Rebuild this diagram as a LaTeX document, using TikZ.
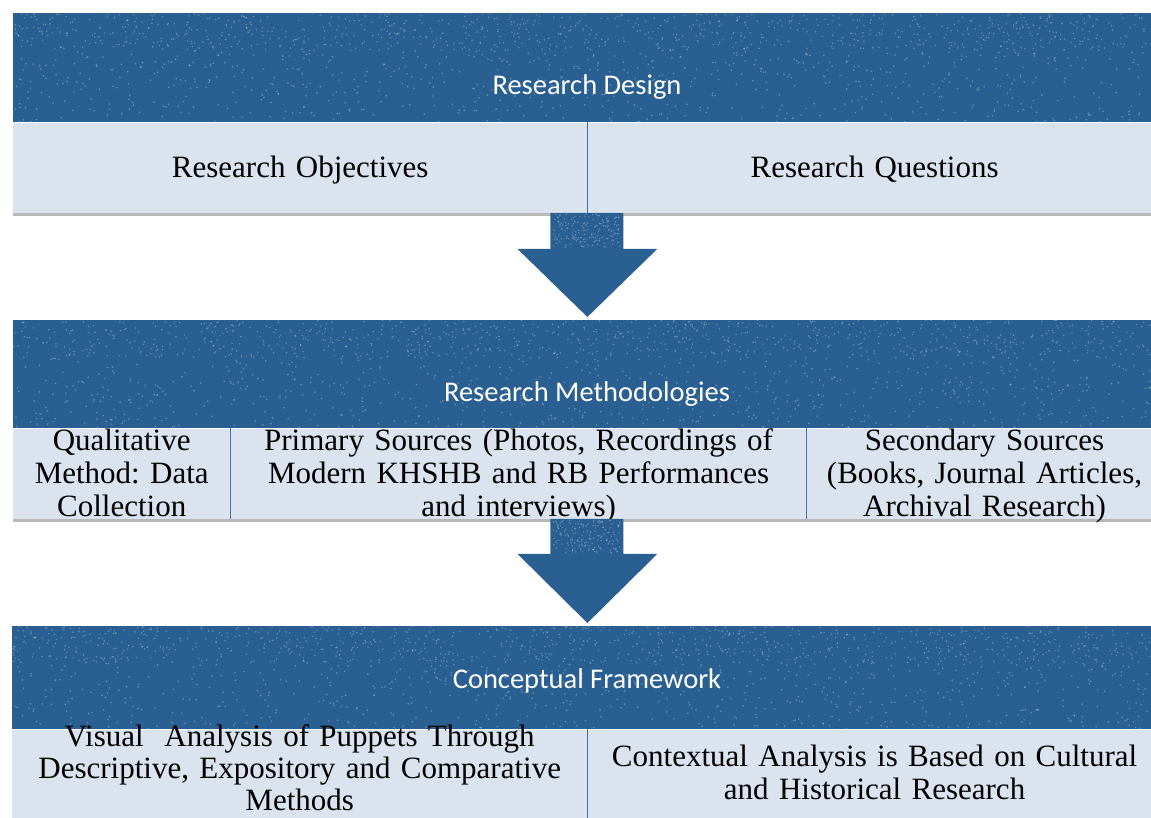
\documentclass[tikz,border=0pt]{standalone}
\usepackage{fontspec}
\setmainfont{Liberation Serif}
\newfontfamily\headfont{Carlito}
\usetikzlibrary{calc,positioning}
\frenchspacing

\definecolor{headblue}{RGB}{42,96,145}
\definecolor{cellblue}{RGB}{219,227,238}
\definecolor{ruleblue}{RGB}{72,112,158}

\begin{document}
\begin{tikzpicture}[x=1pt,y=-1pt,line join=miter,
    head/.style={rectangle, fill=headblue, inner sep=0pt, anchor=north west, minimum width=1148pt},
    cell/.style={rectangle, fill=cellblue, inner sep=0pt, anchor=north west, minimum height=90pt},
    headtext/.style={anchor=base, inner sep=0pt, text=white, font=\headfont\fontsize{28.5}{32}\selectfont},
    celltext/.style={anchor=base, align=center, inner sep=0pt, font=\fontsize{31}{33}\selectfont},
    divider/.style={draw=ruleblue, line width=1pt},
    shade/.style={fill=black!28},
    speck/.style={fill=white, opacity=0.28},
    blockarrow/.style={fill=headblue}]
    \useasboundingbox (0,0) rectangle (1151,818);
    \clip (0,0) rectangle (1151,818);

    % shadows under the panels
    \fill[shade] (13,212) rectangle (1161,216);
    \fill[shade] (13,518) rectangle (1161,522);

    % Research Design
    \node[head, minimum height=109pt] (design) at (13,13) {};
    \node[cell, minimum width=574pt] (objectives) at (design.south west) {};
    \node[cell, minimum width=574pt] (questions) at (objectives.north east) {};
    \draw[divider] (objectives.north east) -- (objectives.south east);
    \node[headtext] (designlabel) at (587,95) {Research Design};
    \node[celltext, text width=560pt] (objectiveslabel) at (objectives.center |- 0,178) {Research Objectives};
    \node[celltext, text width=560pt] (questionslabel) at (questions.center |- 0,178) {Research Questions};

    % Research Methodologies
    \node[head, minimum height=108pt] (methods) at (13,320) {};
    \node[cell, minimum width=217pt] (qualitative) at (methods.south west) {};
    \node[cell, minimum width=576pt] (primary) at (qualitative.north east) {};
    \node[cell, minimum width=355pt] (secondary) at (primary.north east) {};
    \draw[divider] (qualitative.north east) -- (qualitative.south east);
    \draw[divider] (primary.north east) -- (primary.south east);
    \node[headtext] (methodslabel) at (587,401) {Research Methodologies};
    \node[celltext, text width=210pt] (qualitativelabel) at (qualitative.center |- 0,450) {Qualitative\\Method: Data\\Collection};
    \node[celltext, text width=570pt] (primarylabel) at (primary.center |- 0,450) {Primary Sources (Photos, Recordings of\\Modern KHSHB and RB Performances\\and interviews)};
    \node[celltext, text width=350pt] (secondarylabel) at (secondary.center |- 0,450) {Secondary Sources\\(Books, Journal Articles,\\Archival Research)};

    % Conceptual Framework
    \node[head, minimum height=103pt, minimum width=1149pt] (framework) at (12,626) {};
    \node[cell, minimum width=575pt] (visual) at (framework.south west) {};
    \node[cell, minimum width=574pt] (contextual) at (visual.north east) {};
    \draw[divider] (visual.north east) -- (visual.south east);
    \node[headtext] (frameworklabel) at (587,688) {Conceptual Framework};
    \node[celltext, text width=570pt, font=\fontsize{31}{32}\selectfont] (visuallabel) at (visual.center |- 0,746) {Visual~ Analysis of Puppets Through\\Descriptive, Expository and Comparative\\Methods};
    \node[celltext, text width=570pt] (contextuallabel) at (contextual.center |- 0,766) {Contextual Analysis is Based on Cultural\\and Historical Research};

    % speckled print on the headers
    \pgfmathsetseed{11}
    \foreach \top/\h in {13/109, 320/108, 626/103} {
        \foreach \k in {1,...,1000} {
            \fill[speck] ({13+1138*rnd},{\top+\h*rnd}) circle (0.9);
        }
        \foreach \k in {1,...,500} {
            \fill[speck] ({13+1138*rnd},{\top+0.35*\h*rnd}) circle (0.8);
        }
    }

    % block arrows between the panels
    \coordinate (arrowone) at (objectives.south east);
    \coordinate (arrowtwo) at (arrowone |- primary.south);
    \fill[blockarrow] ($(arrowone)+(-37,0)$) -- ($(arrowone)+(-37,36)$) -- ($(arrowone)+(-70,36)$)
        -- ($(arrowone |- methods.north)+(0,-3)$)
        -- ($(arrowone)+(70,36)$) -- ($(arrowone)+(36,36)$) -- ($(arrowone)+(36,0)$) -- cycle;
    \fill[blockarrow] ($(arrowtwo)+(-37,0)$) -- ($(arrowtwo)+(-37,35)$) -- ($(arrowtwo)+(-70,35)$)
        -- ($(arrowtwo |- framework.north)+(0,-3)$)
        -- ($(arrowtwo)+(70,35)$) -- ($(arrowtwo)+(36,35)$) -- ($(arrowtwo)+(36,0)$) -- cycle;
    \foreach \k in {1,...,160} {
        \fill[speck] ({553+67*rnd},{214+34*rnd}) circle (0.8);
        \fill[speck] ({553+67*rnd},{520+33*rnd}) circle (0.8);
    }
\end{tikzpicture}
\end{document}
